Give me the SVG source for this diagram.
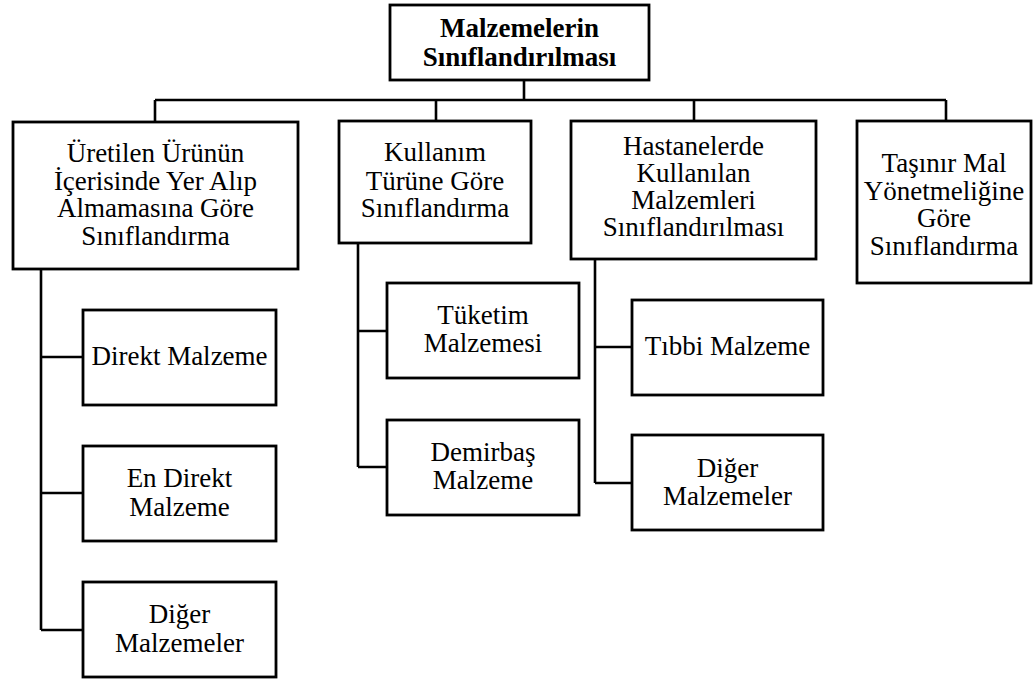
<svg xmlns="http://www.w3.org/2000/svg" width="1034" height="679" viewBox="0 0 1034 679">
<style>
.box{fill:#fff;stroke:#000;stroke-width:2.8}
.ln{fill:none;stroke:#000;stroke-width:2.6}
.t{font-family:"Liberation Serif","Times New Roman",serif;font-size:27px;text-anchor:middle;fill:#000}
.b{font-weight:bold}
</style>
<rect width="1034" height="679" fill="#fff"/>
<g id="connectors">
<path class="ln" d="M524 80V100M155 100H946M155 100V122M436 100V121M694 100V121M946 100V121"/>
<path class="ln" d="M41 269V630M41 357H83M41 493H83M41 630H83"/>
<path class="ln" d="M358 243V467M358 331H387M358 467H387"/>
<path class="ln" d="M595 259V483M595 347H632M595 483H632"/>
</g>
<g id="root"><rect class="box" x="390" y="5" width="259" height="75"/>
<text class="t b" x="519.5" y="37">Malzemelerin</text><text class="t b" x="519.5" y="66">Sınıflandırılması</text></g>
<g id="n1"><rect class="box" x="13" y="122" width="285" height="147"/>
<text class="t" x="155.5" y="162">Üretilen Ürünün</text><text class="t" x="155.5" y="190">İçerisinde Yer Alıp</text><text class="t" x="155.5" y="217">Almamasına Göre</text><text class="t" x="155.5" y="245">Sınıflandırma</text></g>
<g id="n2"><rect class="box" x="339" y="121" width="192" height="122"/>
<text class="t" x="435" y="161">Kullanım</text><text class="t" x="435" y="190">Türüne Göre</text><text class="t" x="435" y="217">Sınıflandırma</text></g>
<g id="n3"><rect class="box" x="571" y="121" width="245" height="138"/>
<text class="t" x="693.5" y="155">Hastanelerde</text><text class="t" x="693.5" y="182">Kullanılan</text><text class="t" x="693.5" y="209">Malzemleri</text><text class="t" x="693.5" y="236">Sınıflandırılması</text></g>
<g id="n4"><rect class="box" x="857" y="121" width="174" height="162"/>
<text class="t" x="944" y="172">Taşınır Mal</text><text class="t" x="944" y="200">Yönetmeliğine</text><text class="t" x="944" y="227">Göre</text><text class="t" x="944" y="255">Sınıflandırma</text></g>
<g id="n1a"><rect class="box" x="83" y="310" width="193" height="95"/>
<text class="t" x="179.5" y="365">Direkt Malzeme</text></g>
<g id="n1b"><rect class="box" x="83" y="446" width="193" height="95"/>
<text class="t" x="179.5" y="487">En Direkt</text><text class="t" x="179.5" y="516">Malzeme</text></g>
<g id="n1c"><rect class="box" x="83" y="582" width="193" height="95"/>
<text class="t" x="179.5" y="623">Diğer</text><text class="t" x="179.5" y="652">Malzemeler</text></g>
<g id="n2a"><rect class="box" x="387" y="283" width="192" height="95"/>
<text class="t" x="483" y="324">Tüketim</text><text class="t" x="483" y="352">Malzemesi</text></g>
<g id="n2b"><rect class="box" x="387" y="420" width="192" height="95"/>
<text class="t" x="483" y="461">Demirbaş</text><text class="t" x="483" y="489">Malzeme</text></g>
<g id="n3a"><rect class="box" x="632" y="300" width="191" height="95"/>
<text class="t" x="727.5" y="355">Tıbbi Malzeme</text></g>
<g id="n3b"><rect class="box" x="632" y="435" width="191" height="95"/>
<text class="t" x="727.5" y="477">Diğer</text><text class="t" x="727.5" y="505">Malzemeler</text></g>
</svg>
